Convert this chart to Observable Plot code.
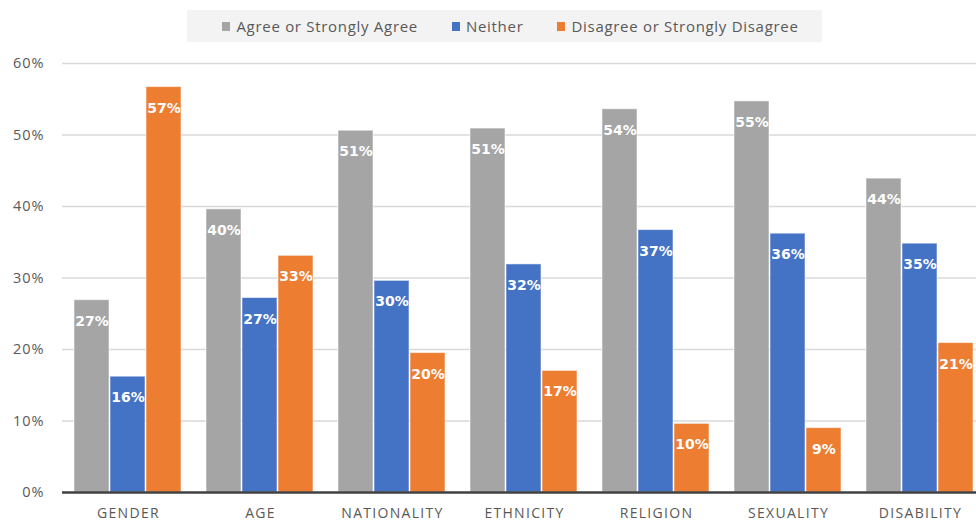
<!DOCTYPE html>
<html>
<head>
<meta charset="utf-8">
<script src="https://cdn.jsdelivr.net/npm/d3@7"></script>
<script src="https://cdn.jsdelivr.net/npm/@observablehq/plot@0.6"></script>
<style>
  html, body { margin: 0; padding: 0; background: #fff; overflow: hidden; }
  #wrap { position: relative; width: 976px; height: 522px; overflow: hidden; font-family: "Open Sans", Lato, sans-serif; }
  #legend { position: absolute; left: 187px; top: 10px; width: 635px; height: 32px; background: #f3f3f3;
            display: flex; align-items: center; justify-content: center; font-size: 15px; letter-spacing: 0.7px; color: #595959; padding-left: 12px; box-sizing: border-box; }
  .item { display: flex; align-items: center; margin: 0 17px; }
  .sw { width: 8px; height: 9px; margin-right: 6px; }
  #chart { position: absolute; left: 0; top: 48px; }
  #chart svg { max-width: none !important; }
  #chart g[aria-label="fx-axis tick label"] text { letter-spacing: 1.3px; }
  #chart g[aria-label="y-axis tick label"] text { letter-spacing: 1px; }
</style>
</head>
<body>
<div id="wrap">
  <div id="legend"></div>
  <div id="chart"></div>
</div>
<script>
const categories = ["GENDER", "AGE", "NATIONALITY", "ETHNICITY", "RELIGION", "SEXUALITY", "DISABILITY"];
const seriesNames = ["Agree or Strongly Agree", "Neither", "Disagree or Strongly Disagree"];
const seriesColors = ["#A5A5A5", "#4472C4", "#ED7D31"];
const agree    = [26.9, 39.6, 50.6, 50.9, 53.6, 54.7, 43.9];
const neither  = [16.2, 27.2, 29.6, 31.9, 36.7, 36.2, 34.8];
const disagree = [56.7, 33.1, 19.5, 17.0, 9.6, 9.0, 20.9];
const yTicks = [0, 10, 20, 30, 40, 50, 60];

const seriesValues = [agree, neither, disagree];
const data = [];
categories.forEach((c, i) => {
  seriesNames.forEach((s, j) => data.push({category: c, series: s, value: seriesValues[j][i]}));
});

// legend
const legend = document.getElementById("legend");
seriesNames.forEach((s, j) => {
  const it = document.createElement("div");
  it.className = "item";
  it.innerHTML = `<span class="sw" style="background:${seriesColors[j]}"></span><span>${s}</span>`;
  legend.appendChild(it);
});

const plot = Plot.plot({
  width: 986,
  height: 484,
  marginLeft: 62,
  marginRight: 0,
  marginTop: 15,
  marginBottom: 40,
  style: {fontFamily: "'Open Sans', Lato, sans-serif", background: "transparent", overflow: "visible", maxWidth: "none"},
  fx: {domain: categories, padding: 0, label: null},
  x: {domain: seriesNames, paddingInner: 0.02, paddingOuter: 0.33, axis: null},
  y: {domain: [0, 60], axis: null},
  color: {domain: seriesNames, range: seriesColors},
  marks: [
    Plot.ruleY(yTicks.filter(d => d > 0), {stroke: "#d9d9d9", strokeWidth: 1.5}),
    Plot.barY(data, {fx: "category", x: "series", y: "value", fill: "series",
      stroke: "#ffffff", strokeOpacity: 0.55, strokeWidth: 1}),
    Plot.text(data, {fx: "category", x: "series", y: "value", text: d => Math.round(d.value) + "%",
      dy: 21, fill: "white", fontWeight: "bold", fontSize: 14,
      fontFamily: "'DejaVu Sans', Verdana, sans-serif"}),
    Plot.ruleY([0], {stroke: "#404040", strokeWidth: 2.5}),
    Plot.axisY(yTicks, {anchor: "left", tickSize: 0, tickPadding: 18, tickFormat: d => d + "%",
      fontSize: 14.5, color: "#595959", label: null}),
    Plot.axisFx({anchor: "bottom", tickSize: 0, tickPadding: 16, fontSize: 14, label: null, color: "#595959"})
  ]
});
document.getElementById("chart").appendChild(plot);
</script>
</body>
</html>
